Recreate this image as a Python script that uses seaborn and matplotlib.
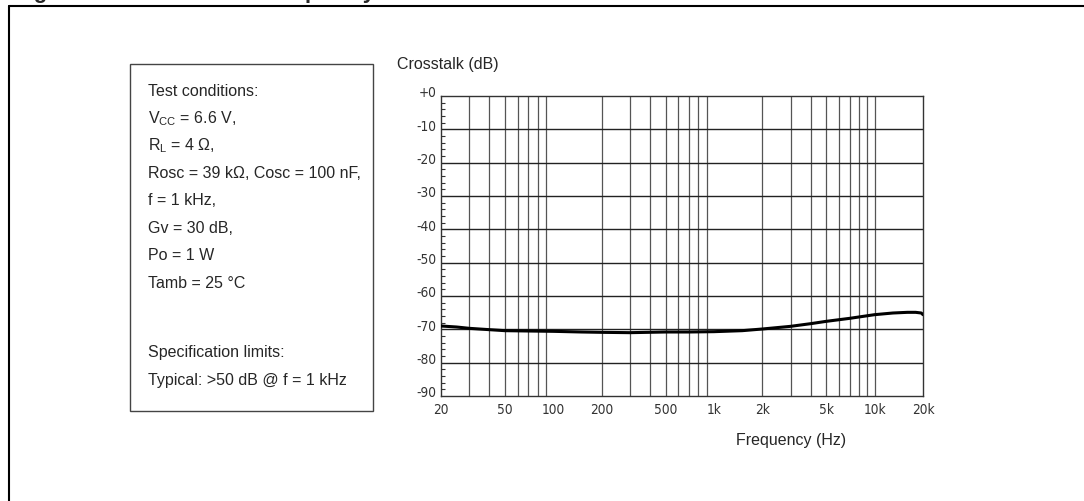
import numpy as np
import pandas as pd
import matplotlib
matplotlib.use("Agg")
import matplotlib.pyplot as plt
import matplotlib.transforms as mtransforms
from matplotlib.lines import Line2D
from matplotlib.patches import Rectangle
import seaborn as sns

# Data
freq_hz = [20, 25, 30, 40, 50, 70, 100, 150, 200, 300, 500, 700, 1000, 1500,
           2000, 3000, 4000, 5000, 7000, 10000, 13000, 16000, 18000, 19500, 20000]
crosstalk_db = [-69.0, -69.3, -69.7, -70.1, -70.4, -70.5, -70.6, -70.8, -70.9, -71.0,
                -70.8, -70.8, -70.7, -70.4, -69.9, -69.1, -68.3, -67.6, -66.7, -65.6,
                -65.1, -64.9, -64.9, -65.1, -65.6]

x_tick_vals = [20, 50, 100, 200, 500, 1000, 2000, 5000, 10000, 20000]
x_tick_labels = ["20", "50", "100", "200", "500", "1k", "2k", "5k", "10k", "20k"]
y_tick_vals = [0, -10, -20, -30, -40, -50, -60, -70, -80, -90]
y_tick_labels = ["+0", "-10", "-20", "-30", "-40", "-50", "-60", "-70", "-80", "-90"]

conditions = [
    "Test conditions:",
    r"V$_{\mathrm{CC}}$ = 6.6 V,",
    r"R$_{\mathrm{L}}$ = 4 Ω,",
    "Rosc = 39 kΩ, Cosc = 100 nF,",
    "f = 1 kHz,",
    "Gv = 30 dB,",
    "Po = 1 W",
    "Tamb = 25 °C",
]
limits = ["Specification limits:", "Typical: >50 dB @ f = 1 kHz"]

df = pd.DataFrame({"freq": freq_hz, "db": crosstalk_db})

# Theme ----------------------------------------------------------
sns.set_theme(style="white")
plt.rcParams["font.family"] = ["Liberation Sans", "DejaVu Sans"]
plt.rcParams["mathtext.fontset"] = "custom"
plt.rcParams["mathtext.rm"] = "Liberation Sans"
TICKFONT = dict(family="DejaVu Sans", stretch="condensed", fontsize=9.8, color="#333333")
TXT = 11.5

W, H = 1084, 501
fig = plt.figure(figsize=(W / 100, H / 100), dpi=100)
fig.patch.set_facecolor("white")

def fx(px):
    return px / W

def fy(py):
    return 1 - py / H

ax = fig.add_axes([fx(441), fy(396), fx(923) - fx(441), fy(96) - fy(396)])

# grid lines
minor_x = [m * d for d in (10, 100, 1000) for m in range(2, 10)] + [10000]
for v in minor_x:
    if 20 < v < 20000:
        ax.axvline(v, color="#555555", lw=0.9, zorder=1)
for v in y_tick_vals[1:-1]:
    ax.axhline(v, color="#222222", lw=1.0, zorder=1)

sns.lineplot(data=df, x="freq", y="db", ax=ax, color="black", lw=2.2, zorder=3)

ax.set_xscale("log")
ax.set_xlim(20, 20000)
ax.set_ylim(-90, 0)
ax.set_xlabel("")
ax.set_ylabel("")

ax.xaxis.set_major_locator(matplotlib.ticker.FixedLocator(x_tick_vals))
ax.xaxis.set_minor_locator(matplotlib.ticker.NullLocator())
ax.set_xticklabels(x_tick_labels, **TICKFONT)
ax.tick_params(axis="x", length=0, pad=5)

ax.set_yticks(y_tick_vals)
ax.set_yticklabels(y_tick_labels, **TICKFONT)
ax.set_yticks(np.arange(-90, 1, 2), minor=True)
ax.tick_params(axis="y", which="major", length=0, pad=3)
ax.tick_params(axis="y", which="minor", direction="in", length=3, width=0.8,
               color="#333333", left=True)
offset = mtransforms.ScaledTranslation(0, 3 / 72, fig.dpi_scale_trans)
for lab in ax.get_yticklabels():
    lab.set_transform(lab.get_transform() + offset)

for s in ax.spines.values():
    s.set_color("#333333")
    s.set_linewidth(1.0)

# Axis titles
fig.text(fx(397), fy(65), "Crosstalk (dB)", fontsize=TXT, va="center", ha="left")
fig.text(fx(791), fy(441), "Frequency (Hz)", fontsize=TXT, va="center", ha="center")

# Test-conditions box
fig.add_artist(Rectangle((fx(130), fy(411)), fx(373) - fx(130), fy(64) - fy(411),
                         transform=fig.transFigure, fill=False, ec="#444444", lw=1.0))
for i, line in enumerate(conditions):
    fig.text(fx(148), fy(91 + 27.5 * i), line, fontsize=TXT, va="center", ha="left")
for i, line in enumerate(limits):
    fig.text(fx(148), fy(352 + 28 * i), line, fontsize=TXT, va="center", ha="left")

# Outer frame and cut-off figure title
fig.add_artist(Line2D([fx(9), 1.0], [fy(6), fy(6)], transform=fig.transFigure,
                      color="black", lw=1.5))
fig.add_artist(Line2D([fx(9), fx(9)], [0, fy(6)], transform=fig.transFigure,
                      color="black", lw=1.5))
fig.text(fx(14), fy(-2), "Figure 26. Crosstalk vs. frequency", fontsize=16,
         weight="bold", va="baseline", ha="left")

fig.savefig("out.png", dpi=100)
